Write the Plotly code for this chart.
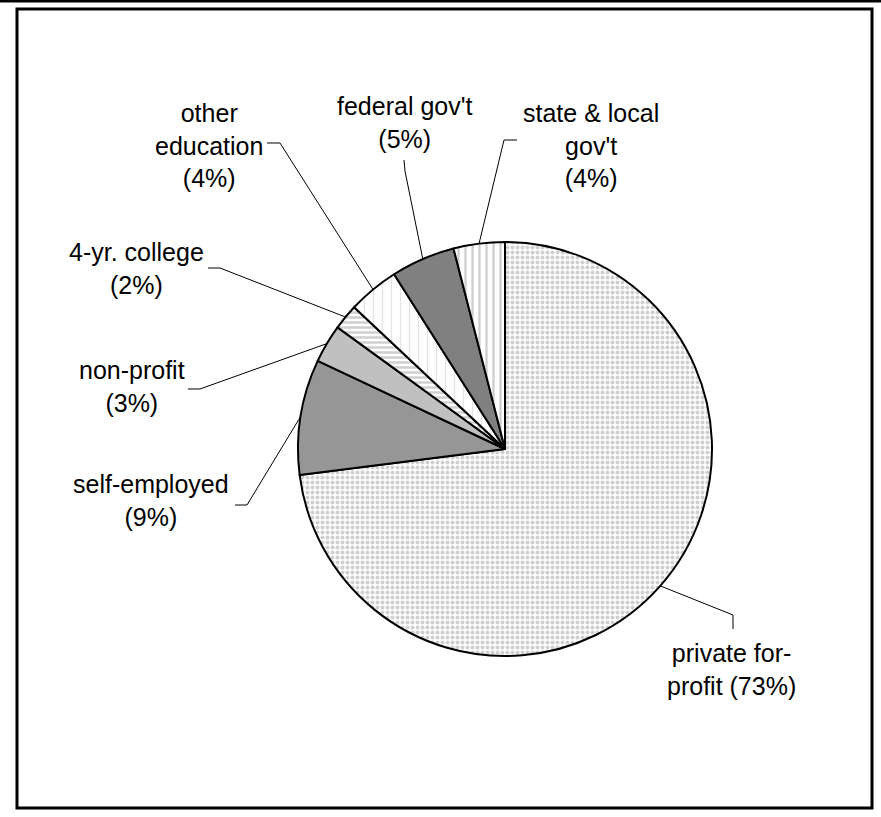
import math
import plotly.graph_objects as go

# ---- data ----
categories = ["private for-profit", "self-employed", "non-profit", "4-yr. college",
              "other education", "federal gov't", "state & local gov't"]
shares = [73, 9, 3, 2, 4, 5, 4]
label_texts = ["private for-<br>profit (73%)", "self-employed<br>(9%)", "non-profit<br>(3%)",
               "4-yr. college<br>(2%)", "other<br>education<br>(4%)", "federal gov't<br>(5%)",
               "state & local<br>gov't<br>(4%)"]

# ---- styles / layout (pixels) ----
W, H = 881, 817
CX, CY, R = 505, 449, 207
colors = ["#ffffff", "#969696", "#c0c0c0", "#ffffff", "#ffffff", "#808080", "#ffffff"]
pshape = [".", "", "", "-", "|", "", "|"]
pfg = ["#a0a0a0", "#969696", "#c0c0c0", "#a0a0a0", "#c8c8c8", "#808080", "#9a9a9a"]
psize = [5, 8, 8, 5, 9, 8, 7]
psol = [0.5, 0.3, 0.3, 0.5, 0.15, 0.3, 0.32]
label_pos = [(731, 669), (151, 500), (132, 387), (136, 268), (209, 145), (404, 122), (591, 145)]
leader_pts = [[(733, 615), (733, 629)], [(247, 505), (235, 505)], [(200, 389), (188, 389)],
              [(220, 268), (208, 268)], [(280, 143), (267, 143)], [(405, 171), (404, 160)],
              [(504, 140), (517, 140)]]

def px(x):
    return x / W

def py(y):
    return 1 - y / H

fig = go.Figure(go.Pie(
    labels=categories, values=shares, sort=False, direction="clockwise", rotation=0,
    textinfo="none", hoverinfo="label+percent", showlegend=False,
    marker=dict(colors=colors, line=dict(color="black", width=2),
                pattern=dict(shape=pshape, fgcolor=pfg, bgcolor=colors, size=psize,
                             solidity=psol, fillmode="overlay")),
    domain=dict(x=[px(CX - R), px(CX + R)], y=[py(CY + R), py(CY - R)]),
))

total = sum(shares)
shapes = []
annotations = []
cum = 0
for i, v in enumerate(shares):
    mid = (cum + v / 2) / total * 2 * math.pi
    cum += v
    ex = CX + R * math.sin(mid)
    ey = CY - R * math.cos(mid)
    pts = [(ex, ey)] + leader_pts[i]
    path = "M " + " L ".join(f"{px(x):.5f},{py(y):.5f}" for x, y in pts)
    shapes.append(dict(type="path", path=path, xref="paper", yref="paper",
                       line=dict(color="black", width=1)))
    lx, ly = label_pos[i]
    annotations.append(dict(x=px(lx), y=py(ly), xref="paper", yref="paper",
                            text=label_texts[i], showarrow=False,
                            xanchor="center", yanchor="middle", align="center",
                            font=dict(family="Liberation Sans, Arial", size=25, color="black")))

# frame
shapes.append(dict(type="rect", xref="paper", yref="paper", x0=px(17), x1=px(872),
                   y0=py(808), y1=py(9), line=dict(color="black", width=3)))
shapes.append(dict(type="line", xref="paper", yref="paper", x0=0, x1=1,
                   y0=py(1), y1=py(1), line=dict(color="black", width=3)))

fig.update_layout(width=W, height=H, margin=dict(l=0, r=0, t=0, b=0),
                  paper_bgcolor="white", plot_bgcolor="white",
                  shapes=shapes, annotations=annotations)
fig.write_html("out.html")
